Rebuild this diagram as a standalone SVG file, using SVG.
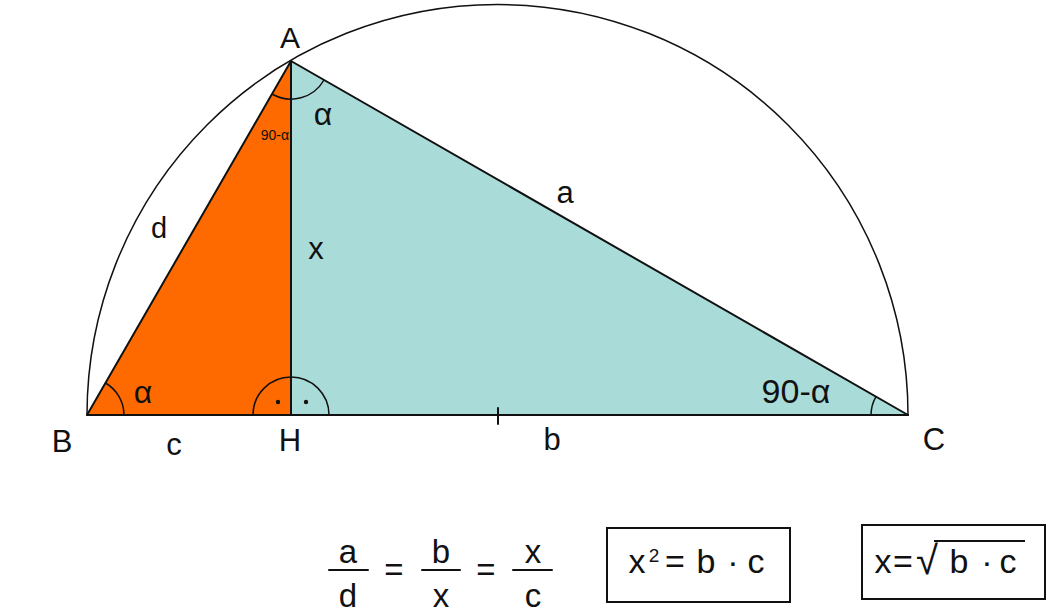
<svg xmlns="http://www.w3.org/2000/svg" width="1060" height="614" viewBox="0 0 1060 614">
<style>
.t{font-family:"Liberation Sans",Arial,sans-serif;fill:#111;}
.edge{stroke:#111;stroke-width:2;fill:none;stroke-linecap:round;stroke-linejoin:round;}
.arc{stroke:#111;stroke-width:1.5;fill:none;}
.box{stroke:#111;stroke-width:2;fill:#fff;}
</style>
<rect width="1060" height="614" fill="#fff"/>
<g id="semicircle">
<path class="arc" d="M 87 415 A 410.5 410.5 0 0 1 908 415" stroke-width="1.6"/>
</g>
<g id="triangle-BAH">
<polygon points="87,415 291,61 291,415" fill="#FF6A00"/>
</g>
<g id="triangle-AHC">
<polygon points="291,61 291,415 908,415" fill="#A9DCD9"/>
</g>
<g id="connectors">
<line class="edge" x1="87" y1="415" x2="291" y2="61"/>
<line class="edge" x1="291" y1="61" x2="908" y2="415"/>
<line class="edge" x1="291" y1="61" x2="291" y2="415"/>
<line class="edge" x1="87" y1="415" x2="908" y2="415"/>
<line class="edge" x1="498" y1="408" x2="498" y2="424" stroke-width="1.3"/>
<path class="arc" d="M 124 415 A 37 37 0 0 0 105.5 383"/>
<path class="arc" d="M 253 415 A 38 38 0 0 1 329 415"/>
<path class="arc" d="M 272 94 A 38 38 0 0 0 324 80"/>
<path class="arc" d="M 871 415 A 37 37 0 0 1 876 396.6"/>
<circle cx="278" cy="402" r="2.2" fill="#111"/>
<circle cx="306" cy="402" r="2.2" fill="#111"/>
</g>
<g id="labels">
<text class="t" x="290" y="48" font-size="30" text-anchor="middle">A</text>
<text class="t" x="62" y="452" font-size="31" text-anchor="middle">B</text>
<text class="t" x="934" y="450" font-size="31" text-anchor="middle">C</text>
<text class="t" x="290" y="451" font-size="31" text-anchor="middle">H</text>
<text class="t" x="174" y="455" font-size="31" text-anchor="middle">c</text>
<text class="t" x="552" y="450" font-size="31" text-anchor="middle">b</text>
<text class="t" x="565" y="203" font-size="31" text-anchor="middle">a</text>
<text class="t" x="159" y="238" font-size="29" text-anchor="middle">d</text>
<text class="t" x="316" y="259" font-size="31" text-anchor="middle">x</text>
<text class="t" x="323" y="125" font-size="32" text-anchor="middle">α</text>
<text class="t" x="143" y="403" font-size="32" text-anchor="middle">α</text>
<text class="t" x="289" y="140" font-size="14" text-anchor="end">90-α</text>
<text class="t" x="796" y="403" font-size="34" text-anchor="middle">90-α</text>
</g>
<g id="formula-ratio">
<text class="t" x="348" y="563" font-size="33" text-anchor="middle">a</text>
<line class="edge" x1="329" y1="570" x2="368" y2="570"/>
<text class="t" x="348" y="607" font-size="33" text-anchor="middle">d</text>
<text class="t" x="394" y="581" font-size="33" text-anchor="middle">=</text>
<text class="t" x="441" y="563" font-size="33" text-anchor="middle">b</text>
<line class="edge" x1="422" y1="570" x2="460" y2="570"/>
<text class="t" x="441" y="607" font-size="33" text-anchor="middle">x</text>
<text class="t" x="486" y="581" font-size="33" text-anchor="middle">=</text>
<text class="t" x="533" y="563" font-size="33" text-anchor="middle">x</text>
<line class="edge" x1="513" y1="570" x2="552" y2="570"/>
<text class="t" x="533" y="607" font-size="33" text-anchor="middle">c</text>
</g>
<g id="formula-square">
<rect class="box" x="607" y="528" width="183" height="74"/>
<text class="t" x="637" y="573" font-size="34" text-anchor="middle">x</text>
<text class="t" x="654" y="562" font-size="19" text-anchor="middle">2</text>
<text class="t" x="675" y="573" font-size="34" text-anchor="middle">=</text>
<text class="t" x="706" y="573" font-size="34" text-anchor="middle">b</text>
<text class="t" x="733" y="573" font-size="34" text-anchor="middle">·</text>
<text class="t" x="756" y="573" font-size="34" text-anchor="middle">c</text>
</g>
<g id="formula-root">
<rect class="box" x="862" y="525" width="183" height="74"/>
<text class="t" x="883" y="573" font-size="34" text-anchor="middle">x</text>
<text class="t" x="903" y="573" font-size="34" text-anchor="middle">=</text>
<text class="t" x="927" y="574" font-size="40" text-anchor="middle">√</text>
<line x1="934" y1="541" x2="1025" y2="541" stroke="#111" stroke-width="2"/>
<text class="t" x="959" y="573" font-size="34" text-anchor="middle">b</text>
<text class="t" x="987" y="573" font-size="34" text-anchor="middle">·</text>
<text class="t" x="1008" y="573" font-size="34" text-anchor="middle">c</text>
</g>
</svg>
